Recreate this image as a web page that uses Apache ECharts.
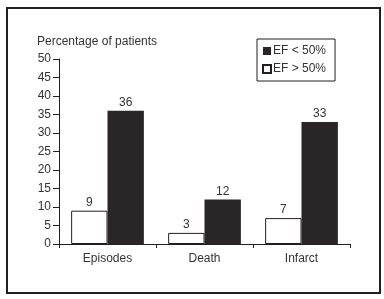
<!DOCTYPE html>
<html>
<head>
<meta charset="utf-8">
<script src="https://cdn.jsdelivr.net/npm/echarts@6/dist/echarts.min.js"></script>
<style>
  html, body { margin: 0; padding: 0; background: #fff; }
  #chart { width: 384px; height: 299px; }
</style>
</head>
<body>
<div id="chart"></div>
<script>
  // data
  var categories = ["Episodes", "Death", "Infarct"];
  var efAbove50 = [9, 3, 7];
  var efBelow50 = [36, 12, 33];
  var yTicks = [0, 50, 5];  // min, max, interval

  var font = "'Liberation Sans Narrow', 'Arial Narrow', 'Liberation Sans', sans-serif";
  var ink = "#231f20";

  var chart = echarts.init(document.getElementById("chart"));
  chart.setOption({
    animation: false,
    textStyle: { fontFamily: font },
    graphic: [
      {
        type: "rect",
        shape: { x: 7, y: 8, width: 373, height: 285 },
        style: { fill: "none", stroke: ink, lineWidth: 2 },
      },
    ],
    legend: {
      orient: "vertical",
      left: 257,
      top: 39,
      data: ["EF < 50%", "EF > 50%"],
      icon: "rect",
      itemWidth: 8,
      itemHeight: 8,
      itemGap: 6,
      padding: [6, 9, 6, 5],
      borderColor: ink,
      borderWidth: 1,
      textStyle: { fontFamily: font, fontSize: 12, color: "#333", padding: [0, 0, 0, -3] },
    },
    grid: { left: 59, top: 59, right: 34, bottom: 55 },
    xAxis: {
      type: "category",
      data: categories,
      axisLine: { lineStyle: { color: ink, width: 1 } },
      axisTick: { show: true, length: 4, lineStyle: { color: ink } },
      axisLabel: { color: "#333", fontSize: 12, fontFamily: font, margin: 9 },
    },
    yAxis: {
      type: "value",
      min: yTicks[0],
      max: yTicks[1],
      interval: yTicks[2],
      name: "Percentage of patients",
      nameLocation: "end",
      nameGap: 11,
      nameTextStyle: { align: "left", color: "#333", fontSize: 12, fontFamily: font, padding: [0, 0, 0, -22] },
      axisLine: { show: true, lineStyle: { color: ink, width: 1 } },
      axisTick: { show: true, length: 6, lineStyle: { color: ink } },
      axisLabel: { color: "#333", fontSize: 12, fontFamily: font, margin: 8 },
      splitLine: { show: false },
    },
    series: [
      {
        name: "EF > 50%",
        type: "bar",
        data: efAbove50,
        barGap: "0%",
        barCategoryGap: "25%",
        itemStyle: { color: "#fff", borderColor: ink, borderWidth: 1 },
        label: { show: true, position: "top", color: "#333", fontSize: 12, fontFamily: font, distance: 2 },
      },
      {
        name: "EF < 50%",
        type: "bar",
        data: efBelow50,
        barGap: "0%",
        barCategoryGap: "25%",
        itemStyle: { color: "#2a2526" },
        label: { show: true, position: "top", color: "#333", fontSize: 12, fontFamily: font, distance: 2 },
      },
    ],
  });
</script>
</body>
</html>
